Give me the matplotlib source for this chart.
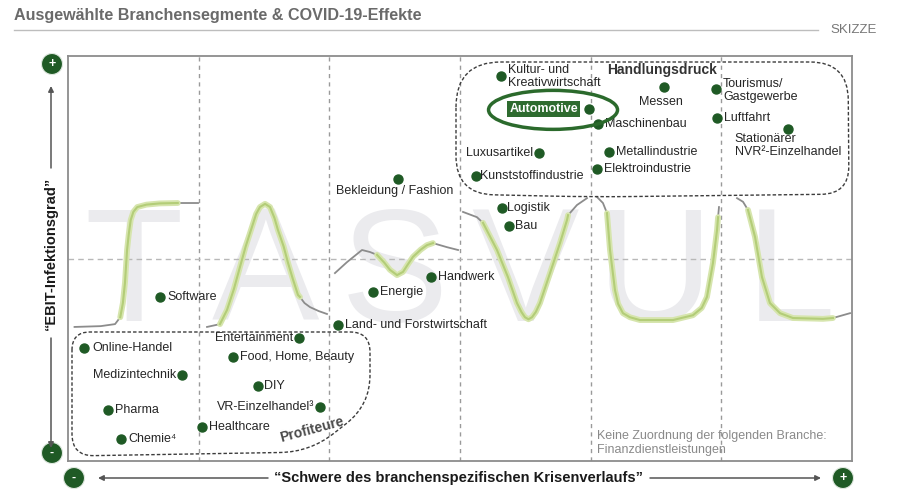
import numpy as np
import matplotlib.pyplot as plt
from matplotlib.patches import Ellipse, Circle, PathPatch
from matplotlib.path import Path

plt.rcParams['font.family'] = ['Liberation Sans', 'DejaVu Sans']

# Branchen: Position im Raster (x: 6 Verlaufssegmente, y: EBIT-Infektionsgrad 0..10)
branchen = ['Software', 'Bekleidung / Fashion', 'Energie', 'Handwerk',
            'Land- und Forstwirtschaft', 'Kultur- und\nKreativwirtschaft', 'Messen',
            'Tourismus/\nGastgewerbe', 'Automotive', 'Maschinenbau', 'Luftfahrt',
            'Stationärer\nNVR²-Einzelhandel', 'Luxusartikel', 'Metallindustrie',
            'Elektroindustrie', 'Kunststoffindustrie', 'Logistik', 'Bau',
            'Online-Handel', 'Medizintechnik', 'Pharma', 'Chemie⁴', 'Entertainment',
            'Food, Home, Beauty', 'DIY', 'VR-Einzelhandel³', 'Healthcare']
pos_x = [0.704, 2.525, 2.334, 2.778, 2.066, 3.314, 4.561, 4.959, 3.987, 4.056, 4.967,
         5.510, 3.605, 4.140, 4.048, 3.122, 3.321, 3.375, 0.122, 0.872, 0.306, 0.406,
         1.768, 1.263, 1.454, 1.929, 1.025]
pos_y = [4.05, 6.96, 4.17, 4.54, 3.36, 9.51, 9.23, 9.19, 8.69, 8.32, 8.47, 8.20, 7.60,
         7.63, 7.21, 7.04, 6.25, 5.80, 2.79, 2.12, 1.26, 0.54, 3.04, 2.57, 1.85, 1.33, 0.84]

# Verlaufskurven T A S V U L
t_x = [0.05, 0.25, 0.36, 0.40, 0.42, 0.436, 0.452, 0.465, 0.48, 0.50, 0.53, 0.60, 0.70, 0.84, 0.995]
t_y = [3.31, 3.33, 3.38, 3.55, 3.90, 4.40, 5.21, 5.60, 5.95, 6.15, 6.27, 6.33, 6.36, 6.37, 6.37]
a_x = [1.064, 1.163, 1.217, 1.27, 1.316, 1.36, 1.408, 1.44, 1.469, 1.508, 1.546, 1.58, 1.607,
       1.65, 1.684, 1.72, 1.76, 1.775, 1.81, 1.852, 1.92, 1.982]
a_y = [3.31, 3.38, 3.73, 4.25, 4.79, 5.30, 5.78, 6.10, 6.27, 6.35, 6.27, 6.00, 5.70,
       5.30, 4.89, 4.50, 4.10, 4.05, 3.90, 3.80, 3.70, 3.63]
s_x = [2.043, 2.135, 2.25, 2.311, 2.365, 2.42, 2.464, 2.518, 2.564, 2.60, 2.64, 2.70,
       2.747, 2.793, 2.90, 2.985]
s_y = [4.64, 4.91, 5.21, 5.16, 5.09, 4.90, 4.72, 4.59, 4.67, 4.85, 5.04, 5.22,
       5.33, 5.38, 5.28, 5.21]
v_x = [3.023, 3.13, 3.176, 3.283, 3.367, 3.436, 3.47, 3.497, 3.524, 3.551, 3.58, 3.612,
       3.689, 3.765, 3.819, 3.827, 3.895, 3.972]
v_y = [6.15, 6.02, 5.88, 5.21, 4.54, 3.90, 3.68, 3.55, 3.50, 3.55, 3.68, 3.90,
       4.64, 5.38, 5.95, 6.07, 6.32, 6.49]
u_x = [4.048, 4.094, 4.125, 4.148, 4.186, 4.21, 4.247, 4.30, 4.377, 4.63, 4.783, 4.85,
       4.89, 4.936, 4.967, 4.975, 4.982]
u_y = [6.52, 6.37, 6.12, 5.21, 4.22, 3.88, 3.65, 3.55, 3.48, 3.48, 3.60, 3.78,
       4.05, 4.89, 5.70, 6.02, 6.27]
l_x = [5.12, 5.166, 5.204, 5.258, 5.311, 5.372, 5.449, 5.548, 5.778, 5.854, 5.985]
l_y = [6.49, 6.40, 6.20, 5.53, 4.54, 3.90, 3.65, 3.53, 3.51, 3.53, 3.65]
buchstaben = ['T', 'A', 'S', 'V', 'U', 'L']

# Darstellung
kurven = [(t_x, t_y, 3, 13), (a_x, a_y, 1, 17), (s_x, s_y, 4, 13),
          (v_x, v_y, 2, 15), (u_x, u_y, 2, 15), (l_x, l_y, 2, 9)]
buchst_x = [0.50, 1.51, 2.50, 3.50, 4.49, 5.53]
label_off = [(5, 0), (-2, -4), (5, 0), (5, 0), (5, 0), (5, -0.5), (-2, -6), (5, -1),
             (-8, 0), (5, 0), (5, 0), (0, -3), (-4, 0), (5, 0), (5, 0), (3, 0), (4, 0),
             (4, 0), (6, 0), (-4, 0), (5, 0), (5, 0), (-4, 0), (5, 0), (4, 0), (-4, 0), (5, 0)]

GRUEN = '#1f5a25'
TXT = '#262626'

fig = plt.figure(figsize=(8.99, 4.91), dpi=100)
ax = fig.add_axes([68 / 899, 30 / 491, 784 / 899, 405 / 491])
ax.set_xlim(0, 6)
ax.set_ylim(0, 10)
ax.set_xticks([])
ax.set_yticks([])
for sp in ax.spines.values():
    sp.set_color('#8c8c8c')
    sp.set_linewidth(1.3)

for i in range(1, 6):
    ax.axvline(i, color='#9a9a9a', lw=1.0, dashes=(3, 3), zorder=1)
ax.axhline(5, color='#b8b8b8', lw=1.0, dashes=(4, 3), zorder=1)

for b, bx in zip(buchstaben, buchst_x):
    ax.text(bx, 3.46, b, fontsize=116, ha='center', va='baseline', color='#ebebee', zorder=0)

for kx, ky, g0, g1 in kurven:
    ax.plot(kx, ky, color='#8c8c8c', lw=1.3, zorder=2)
    ax.plot(kx[g0:g1 + 1], ky[g0:g1 + 1], color='#d6e5ad', lw=4.2, solid_capstyle='round', zorder=3)
    ax.plot(kx[g0:g1 + 1], ky[g0:g1 + 1], color='#b3cd78', lw=1.5, zorder=3)

ax.scatter(pos_x, pos_y, s=42, color=GRUEN, zorder=5)

for name, x, y, (dx, dy) in zip(branchen, pos_x, pos_y, label_off):
    if name == 'Automotive':
        ax.annotate(name, (x, y), xytext=(dx, dy), textcoords='offset points', ha='right',
                    va='center', fontsize=9, fontweight='bold', color='white', zorder=6,
                    bbox=dict(boxstyle='square,pad=0.15', fc='#2e6b2f', ec='none'))
        continue
    if dy < -1.5 or name.startswith('Stationär'):
        ha, va = 'center', 'top'
    else:
        ha, va = ('left' if dx > 0 else 'right'), 'center'
    ax.annotate(name, (x, y), xytext=(dx, dy), textcoords='offset points', ha=ha, va=va,
                fontsize=9, color=TXT, multialignment='left', linespacing=1.15, zorder=6)

ax.add_patch(Ellipse((3.712, 8.67), 0.987, 0.963, fill=False, ec='#2b6a2c', lw=2.5, zorder=6))
ax.text(4.546, 9.65, 'Handlungsdruck', fontsize=10, fontweight='bold', color='#333333',
        ha='center', va='center', zorder=6)
ax.text(1.867, 0.77, 'Profiteure', fontsize=10, fontweight='bold', color='#4a4a4a',
        ha='center', va='center', rotation=15, zorder=6)
ax.text(4.05, 0.76, 'Keine Zuordnung der folgenden Branche:\nFinanzdienstleistungen',
        fontsize=9, color='#8a8a8a', ha='left', va='top', linespacing=1.2, zorder=6)

# Rahmen, Achsenbeschriftung, Wolken (Pixelraster)
ov = fig.add_axes([0, 0, 1, 1], zorder=5)
ov.set_xlim(0, 899)
ov.set_ylim(491, 0)
ov.axis('off')
ov.patch.set_alpha(0)


def wolke(ecken, radien):
    verts, codes = [], []
    n = len(ecken)
    for i in range(n):
        p0, p1, p2 = np.array(ecken[i - 1], float), np.array(ecken[i], float), np.array(ecken[(i + 1) % n], float)
        d1 = (p0 - p1) / np.linalg.norm(p0 - p1)
        d2 = (p2 - p1) / np.linalg.norm(p2 - p1)
        verts += [p1 + d1 * radien[i], p1, p1 + d2 * radien[i]]
        codes += [Path.MOVETO if i == 0 else Path.LINETO, Path.CURVE3, Path.CURVE3]
    verts.append(verts[0])
    codes.append(Path.CLOSEPOLY)
    return PathPatch(Path(verts, codes), fill=False, ec='#3c3c3c', lw=1.0, ls=(0, (2.5, 1.5)))


ov.add_patch(wolke([(456, 62), (848, 62), (849, 194), (592, 197), (456, 194)], [45, 38, 28, 40, 38]))
ov.add_patch(wolke([(72, 332), (370, 332), (370, 405), (310, 452), (72, 456)], [18, 20, 30, 30, 22]))

ov.text(14, 15, 'Ausgewählte Branchensegmente & COVID-19-Effekte', fontsize=11.6,
        fontweight='bold', color='#6a6a6a', ha='left', va='center')
ov.plot([14, 818], [30, 30], color='#bdbdbd', lw=1.0)
ov.text(877, 30, 'SKIZZE', fontsize=9.5, color='#777777', ha='right', va='center')

pfeil = dict(arrowstyle='-|>', color='#555555', lw=1.1, mutation_scale=8, shrinkA=0, shrinkB=0)
ov.annotate('', xy=(51, 86), xytext=(51, 168), arrowprops=pfeil)
ov.annotate('', xy=(51, 448), xytext=(51, 338), arrowprops=pfeil)
ov.annotate('', xy=(98, 478), xytext=(268, 478), arrowprops=pfeil)
ov.annotate('', xy=(821, 478), xytext=(650, 478), arrowprops=pfeil)
ov.text(51, 253, '“EBIT-Infektionsgrad”', rotation=90, fontsize=10.5, fontweight='bold',
        color='#1a1a1a', ha='center', va='center')
ov.text(459, 478, '“Schwere des branchenspezifischen Krisenverlaufs”', fontsize=10.5,
        fontweight='bold', color='#1a1a1a', ha='center', va='center')

for cx, cy, z in [(52, 64, '+'), (52, 453, '-'), (74, 478, '-'), (843, 478, '+')]:
    ov.add_patch(Circle((cx, cy), 10.5, fc=GRUEN, ec='#dfe8df', lw=0.8))
    ov.text(cx, cy, z, color='white', fontsize=9, fontweight='bold', ha='center', va='center')

fig.savefig('out.png', dpi=100)
